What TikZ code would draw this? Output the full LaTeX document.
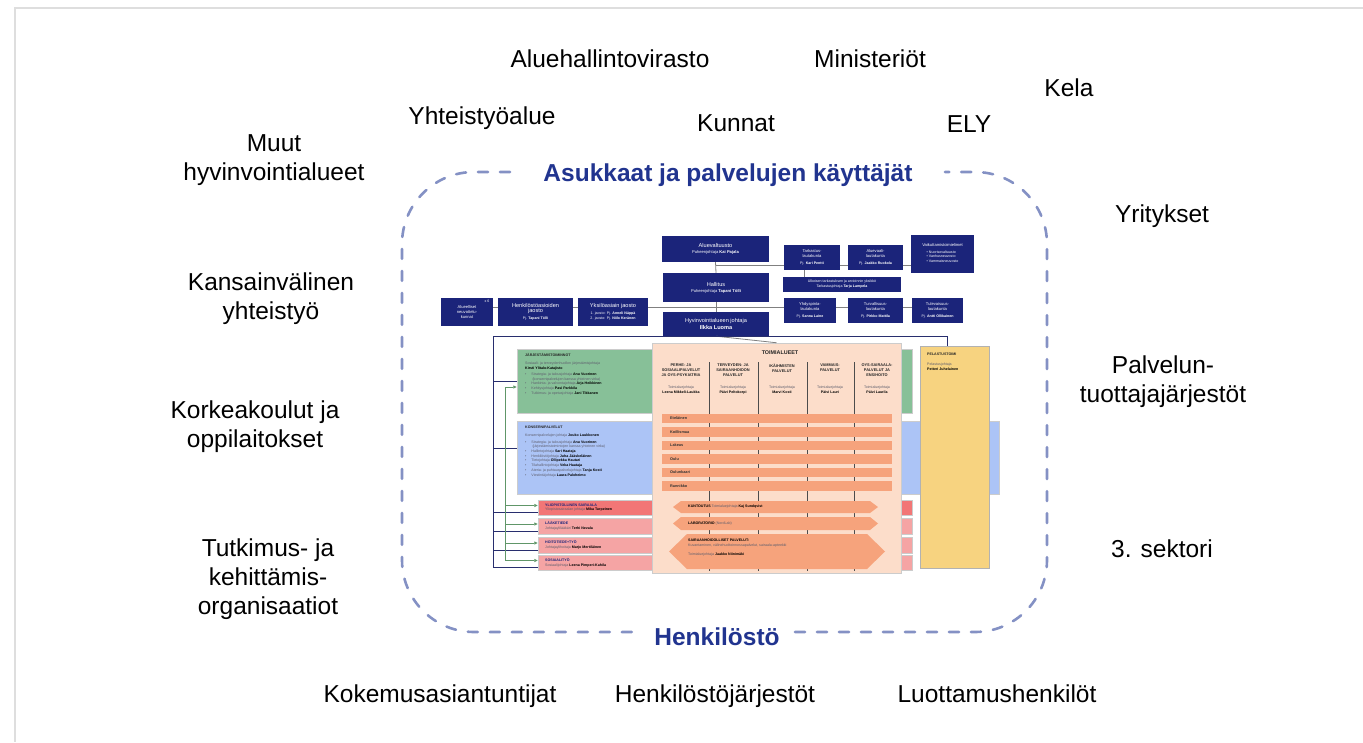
\documentclass[tikz,border=0pt]{standalone}
\usepackage{fontspec}
\setmainfont{Liberation Sans}
\usetikzlibrary{arrows.meta}

\definecolor{navy}{RGB}{27,36,122}
\definecolor{treenavy}{RGB}{40,46,110}
\definecolor{titleblue}{RGB}{33,52,143}
\definecolor{dashblue}{RGB}{132,145,196}
\definecolor{jarjgreen}{RGB}{135,192,152}
\definecolor{konsblue}{RGB}{172,196,246}
\definecolor{peach}{RGB}{252,221,202}
\definecolor{barorange}{RGB}{246,163,124}
\definecolor{pelyellow}{RGB}{247,211,128}
\definecolor{unitred}{RGB}{242,118,118}
\definecolor{unitpink}{RGB}{245,164,164}
\definecolor{arrowgreen}{RGB}{96,150,104}
\definecolor{pageline}{RGB}{222,222,222}
\definecolor{conngray}{RGB}{128,128,128}
\definecolor{txtgray}{RGB}{95,95,110}

\newcommand{\fbig}{\fontsize{5.6}{6.6}\selectfont}
\newcommand{\fsml}{\fontsize{4.1}{5}\selectfont}
\newcommand{\ftiny}{\fontsize{3.6}{4.7}\selectfont}
\newcommand{\nm}[1]{{\color{black}\bfseries #1}}
\newcommand{\bul}{\textbullet\hspace{5pt}}
\newcommand{\ind}{\hspace{7.3pt}}

\tikzset{
  outer/.style={font=\fontsize{24.5}{29}\selectfont, align=center, inner sep=0pt},
  ring/.style={draw=dashblue, line width=2.6pt, line cap=round,
    dash pattern=on 10pt off 12pt, rounded corners=72pt},
  ringlabel/.style={font=\bfseries\fontsize{24.5}{29}\selectfont, text=titleblue, inner sep=0pt},
  board/.style 2 args={fill=navy, text=white, font=\fsml, align=center, inner sep=0pt,
    minimum width=#1, minimum height=#2},
  area/.style={draw=black!20, line width=0.5pt, inner sep=0pt},
  smalltxt/.style={font=\ftiny, align=left, inner sep=0pt, text=txtgray},
  colhead/.style={font=\bfseries\fontsize{3.9}{4.8}\selectfont, align=center, inner sep=0pt,
    text=black!85},
  bar/.style={fill=barorange, minimum width=230pt, minimum height=9.5pt, inner sep=0pt},
  bartxt/.style={font=\bfseries\fontsize{3.8}{4.6}\selectfont, text=black!80, inner sep=0pt},
  conn/.style={draw=conngray, line width=0.8pt},
  divider/.style={draw=black!70, line width=0.6pt},
  navyline/.style={draw=treenavy, line width=1pt},
  greenline/.style={draw=arrowgreen, line width=0.8pt},
  greenarrow/.style={greenline, -{Triangle[length=3.5pt,width=3pt]}},
}

\begin{document}
\begin{tikzpicture}[x=1pt, y=-1pt]
  \useasboundingbox (0,0) rectangle (1363,742);
  % 页面边线
  \draw[pageline, line width=2pt] (1363,8) -- (15,8) -- (15,742);

  % 外部合作方
  \node[outer, anchor=base] (avi) at (610,67) {Aluehallintovirasto};
  \node[outer, anchor=base] (ministeriot) at (870,67) {Ministeriöt};
  \node[outer, anchor=base] (kela) at (1069,96) {Kela};
  \node[outer, anchor=base] (yhteistyo) at (482,124) {Yhteistyöalue};
  \node[outer, anchor=base] (kunnat) at (736,131) {Kunnat};
  \node[outer, anchor=base] (ely) at (969,132) {ELY};
  \node[outer, anchor=north] (muut) at (274,134) {Muut\\hyvinvointialueet};
  \node[outer, anchor=base] (yritykset) at (1162,222) {Yritykset};
  \node[outer, anchor=north] (kansainv) at (271,273) {Kansainvälinen\\yhteistyö};
  \node[outer, anchor=north] (tuottajat) at (1163,356) {Palvelun-\\tuottajajärjestöt};
  \node[outer, anchor=north] (korkeak) at (255,401) {Korkeakoulut ja\\oppilaitokset};
  \node[outer, anchor=base] (sektori) at (1162,557) {3. sektori};
  \node[outer, anchor=north] (tutkimus) at (268,539) {Tutkimus- ja\\kehittämis-\\organisaatiot};
  \node[outer, anchor=base] (kokemus) at (440,702) {Kokemusasiantuntijat};
  \node[outer, anchor=base] (henkjarj) at (715,702) {Henkilöstöjärjestöt};
  \node[outer, anchor=base] (luottamus) at (997,702) {Luottamushenkilöt};

  % 虚线圈
  \draw[ring] (510,172) -- (402,172) -- (402,632) -- (640,632);
  \draw[ring] (795,632) -- (1047,632) -- (1047,172) -- (945,172);
  \node[ringlabel, anchor=base] (asukkaat) at (728,181) {Asukkaat ja palvelujen käyttäjät};
  \node[ringlabel, anchor=base] (henkilosto) at (717,645) {Henkilöstö};

  % 色块
  \node[area, fill=jarjgreen, minimum width=395pt, minimum height=64pt] (jarj) at (714.5,381) {};
  \node[area, fill=konsblue, minimum width=482pt, minimum height=73pt] (kons) at (758,457.5) {};
  \node[area, fill=unitred, minimum width=374pt, minimum height=15pt] (ylio) at (725,507.5) {};
  \node[area, fill=unitpink, minimum width=374pt, minimum height=16pt] (laake) at (725,526) {};
  \node[area, fill=unitpink, minimum width=374pt, minimum height=16pt] (hoito) at (725,545) {};
  \node[area, fill=unitpink, minimum width=374pt, minimum height=15pt] (sosiaali) at (725,562.5) {};
  \node[area, fill=peach, minimum width=249pt, minimum height=230pt] (toimi) at (776.5,458) {};
  \node[area, fill=pelyellow, draw=black!30, minimum width=69pt, minimum height=222pt] (pelastus) at (954.5,457) {};

  \node[smalltxt, anchor=north west] (jarjtxt) at (525,353) {%
    {\bfseries\color{black!85}JÄRJESTÄMISTOIMINNOT}\\[3.5pt]
    Sosiaali- ja terveydenhuollon järjestämisjohtaja\\
    \nm{Kirsti Ylitalo-Katajisto}\\[1.5pt]
    \bul Strategia- ja talousjohtaja \nm{Anu Vuorinen}\\
    \ind (konsernipalvelujen kanssa yhteinen virka)\\
    \bul Hankinta- ja valvontajohtaja \nm{Arja Heikkinen}\\
    \bul Kehitysjohtaja \nm{Pasi Parkkila}\\
    \bul Tutkimus- ja opetusjohtaja \nm{Jani Tikkanen}};
  \node[smalltxt, anchor=north west] (konstxt) at (525,426) {%
    {\bfseries\color{black!85}KONSERNIPALVELUT}\\[3.5pt]
    Konsernipalvelujen johtaja \nm{Jouko Luukkonen}\\[1.5pt]
    \bul Strategia- ja talousjohtaja \nm{Anu Vuorinen}\\
    \ind (järjestämistoimintojen kanssa yhteinen virka)\\
    \bul Hallintojohtaja \nm{Sari Haataja}\\
    \bul Henkilöstöjohtaja \nm{Juha Jääskeläinen}\\
    \bul Tietojohtaja \nm{Ollipekka Hautari}\\
    \bul Tilahallintojohtaja \nm{Veka Haataja}\\
    \bul Ateria- ja puhtauspalvelujohtaja \nm{Tanja Kosti}\\
    \bul Viestintäjohtaja \nm{Laura Paloheimo}};
  \node[smalltxt, anchor=west] (ylitxt) at (545,507.5)
    {{\bfseries\color{navy}YLIOPISTOLLINEN SAIRAALA}\\Yliopistosairaalan johtaja \nm{Mika Turpeinen}};
  \node[smalltxt, anchor=west] (laaketxt) at (545,526)
    {{\bfseries\color{navy}LÄÄKETIEDE}\\Johtajaylilääkäri \nm{Terhi Nevala}};
  \node[smalltxt, anchor=west] (hoitotxt) at (545,545)
    {{\bfseries\color{navy}HOITOTIEDE+TYÖ}\\Johtajaylihoitaja \nm{Marjo Mertiläinen}};
  \node[smalltxt, anchor=west] (sostxt) at (545,562.5)
    {{\bfseries\color{navy}SOSIAALITYÖ}\\Sosiaalijohtaja \nm{Leena Pimperi-Kahila}};
  \node[smalltxt, anchor=north west] (peltxt) at (927,353)
    {{\bfseries\color{black!85}PELASTUSTOIMI}\\[5pt]Pelastusjohtaja\\\nm{Petteri Juhelainen}};

  % toimialueet
  \node[font=\bfseries\fontsize{5.4}{6}\selectfont, text=black!85, inner sep=0pt] (toimititle) at (780,353) {TOIMIALUEET};
  \foreach \x in {709,758,807,854}
    \draw[divider] (\x,362) -- (\x,571);
  \node[colhead, anchor=north] (col1) at (681,364) {PERHE- JA\\SOSIAALIPALVELUT\\JA OYS-PSYKIATRIA};
  \node[colhead, anchor=north] (col2) at (733,364) {TERVEYDEN- JA\\SAIRAANHOIDON\\PALVELUT};
  \node[colhead, anchor=north] (col3) at (782,364) {IKÄIHMISTEN\\PALVELUT};
  \node[colhead, anchor=north] (col4) at (830,364) {VAMMAIS-\\PALVELUT};
  \node[colhead, anchor=north] (col5) at (877,364) {OYS-SAIRAALA-\\PALVELUT JA\\ENSIHOITO};
  \node[smalltxt, align=center, anchor=north] (joht1) at (681,386) {Toimialuejohtaja\\\nm{Leena Mikkeli-Laukka}};
  \node[smalltxt, align=center, anchor=north] (joht2) at (733,386) {Toimialuejohtaja\\\nm{Päivi Peltokorpi}};
  \node[smalltxt, align=center, anchor=north] (joht3) at (782,386) {Toimialuejohtaja\\\nm{Marvi Kosti}};
  \node[smalltxt, align=center, anchor=north] (joht4) at (830,386) {Toimialuejohtaja\\\nm{Päivi Lauri}};
  \node[smalltxt, align=center, anchor=north] (joht5) at (877,386) {Toimialuejohtaja\\\nm{Päivi Laurila}};
  \foreach \lbl [count=\i] in {Eteläinen,Koillismaa,Lakeus,Oulu,Oulunkaari,Rannikko} {
    \node[bar] (bar\i) at (777,{405+13.5*\i}) {};
    \node[bartxt, anchor=west] (bartxt\i) at (670,{405+13.5*\i}) {\lbl};
  }
  \fill[barorange] (673,507) -- (681,501) -- (870,501) -- (878,507) -- (870,513) -- (681,513) -- cycle;
  \fill[barorange] (673,523.5) -- (681,517) -- (870,517) -- (878,523.5) -- (870,530) -- (681,530) -- cycle;
  \fill[barorange] (669,551.5) -- (687,534) -- (867,534) -- (885,551.5) -- (867,569) -- (687,569) -- cycle;
  \node[smalltxt, anchor=west] (kuntoutus) at (688,507)
    {\nm{KUNTOUTUS} Toimialuejohtaja \nm{Kaj Sundqvist}};
  \node[smalltxt, anchor=west] (lab) at (688,523.5) {\nm{LABORATORIO} (NordLab)};
  \node[smalltxt, anchor=north west] (sairaanh) at (688,539)
    {\nm{SAIRAANHOIDOLLISET PALVELUT:}\\
     Kuvantaminen, välinehuoltoinnossapalvelut, sairaala-apteekki\\[4pt]
     Toimialuejohtaja \nm{Jaakko Niinimäki}};

  % 治理层
  \node[board={107pt}{26pt}] (aluevaltuusto) at (715.5,249)
    {\fbig Aluevaltuusto\\[1pt]\fsml Puheenjohtaja \textbf{Kai Pajala}};
  \node[board={56pt}{25pt}] (tarkastus) at (812,257.5)
    {Tarkastus-\\lautakunta\\[2.5pt]\ftiny Pj. \textbf{Kari Pentti}};
  \node[board={55pt}{25pt}] (aluevaali) at (875.5,257.5)
    {Aluevaali-\\lautakunta\\[2.5pt]\ftiny Pj. \textbf{Jaakko Ruokola}};
  \node[board={63pt}{38pt}] (vaikutt) at (942.5,254)
    {Vaikuttamistoimielimet\\[2pt]\ftiny\begin{tabular}{@{}l@{}}\textbullet\ Nuorisovaltuusto\\
     \textbullet\ Vanhusneuvosto\\ \textbullet\ Vammaisneuvosto\end{tabular}};
  \node[board={106pt}{29pt}] (hallitus) at (716,287.5)
    {\fbig Hallitus\\[1pt]\fsml Puheenjohtaja \textbf{Tapani Tölli}};
  \node[board={118pt}{15pt}] (ulkoisen) at (842,284.5)
    {\ftiny Ulkoisen tarkastuksen ja arvioinnin yksikkö\\\ftiny Tarkastusjohtaja \textbf{Tarja Lampela}};
  \node[board={106pt}{24pt}] (johtaja) at (716,324)
    {\fbig Hyvinvointialueen johtaja\\\fbig\bfseries Ilkka Luoma};
  \node[board={52pt}{28pt}] (alueell) at (467,312) {Alueelliset\\neuvottelu-\\kunnat};
  \node[font=\ftiny, text=white, inner sep=0pt] (kuusi) at (487,301) {x 6};
  \node[board={75pt}{28pt}] (henk) at (535.5,312)
    {\fbig Henkilöstöasioiden\\\fbig jaosto\\[2pt]\ftiny Pj. \textbf{Tapani Tölli}};
  \node[board={70pt}{28pt}] (yksilo) at (613,312)
    {\fbig Yksilöasiain jaosto\\[2pt]\ftiny 1. jaosto: Pj. \textbf{Anneli Näppä}\\\ftiny 2. jaosto: Pj. \textbf{Niilo Keränen}};
  \node[board={52pt}{25pt}] (yhdysp) at (810,310.5)
    {Yhdyspinta-\\lautakunta\\[2.5pt]\ftiny Pj. \textbf{Sanna Laine}};
  \node[board={55pt}{25pt}] (turv) at (875.5,310.5)
    {Turvallisuus-\\lautakunta\\[2.5pt]\ftiny Pj. \textbf{Pirkko Mattila}};
  \node[board={51pt}{25pt}] (tulev) at (937.5,310.5)
    {Tulevaisuus-\\lautakunta\\[2.5pt]\ftiny Pj. \textbf{Antti Ollikainen}};

  % 连接线
  \coordinate (row1) at (0,265);
  \coordinate (row2) at (0,307);
  \draw[conn] (aluevaltuusto.south) -- (hallitus.north);
  \draw[conn] (hallitus.south) -- (johtaja.north);
  \draw[conn] (johtaja.south) -- (toimi.north);
  \draw[conn] (aluevaltuusto.south |- row1) -- (tarkastus.west |- row1);
  \draw[conn] (tarkastus.east |- row1) -- (aluevaali.west |- row1);
  \draw[conn] (aluevaali.east |- row1) -- (vaikutt.west |- row1);
  \draw[conn] ([xshift=-8pt]tarkastus.south) -- ([xshift=-8pt]tarkastus.south |- ulkoisen.north);
  \draw[conn] (alueell.east |- row2) -- (henk.west |- row2);
  \draw[conn] (henk.east |- row2) -- (yksilo.west |- row2);
  \draw[conn] (yksilo.east |- row2) -- (yhdysp.west |- row2);
  \draw[conn] (yhdysp.east |- row2) -- (turv.west |- row2);
  \draw[conn] (turv.east |- row2) -- (tulev.west |- row2);

  % 左侧树
  \coordinate (navyx) at (493,0);
  \coordinate (greenx) at (505,0);
  \draw[navyline] ([xshift=-7.5pt]pelastus.north) |- (navyx |- johtaja.south)
    |- ([yshift=-5pt]sosiaali.west);
  \draw[navyline] (navyx |- jarj.west) -- (jarj.west);
  \draw[navyline] ([yshift=9.5pt]navyx |- kons.west) -- ([yshift=9.5pt]kons.west);
  \foreach \u in {ylio,laake,hoito}
    \draw[navyline] ([yshift=-5pt]navyx |- \u.west) -- ([yshift=-5pt]\u.west);
  \draw[greenline] ([yshift=2pt]greenx |- sosiaali.west) -- ([yshift=-6pt]greenx |- jarj.west);
  \draw[greenarrow] ([yshift=-6pt]greenx |- jarj.west) -- ([yshift=-6pt]jarj.west);
  \foreach \u in {ylio,laake,hoito,sosiaali}
    \draw[greenarrow] ([yshift=2pt]greenx |- \u.west) -- ([yshift=2pt]\u.west);
\end{tikzpicture}
\end{document}
